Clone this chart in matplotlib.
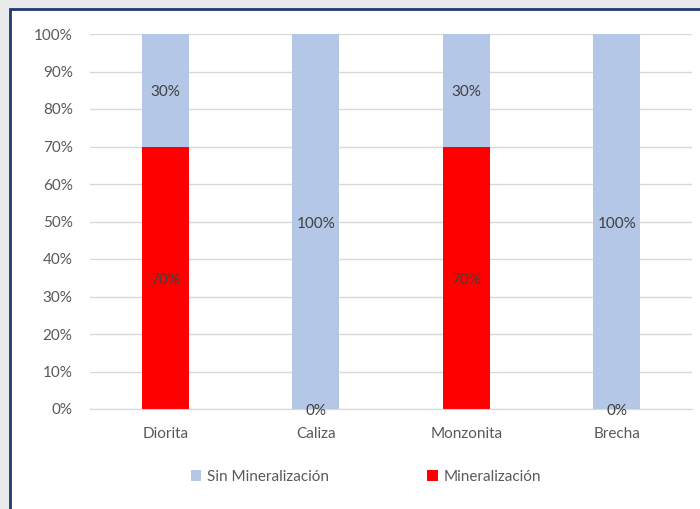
import matplotlib.pyplot as plt
from matplotlib.patches import Rectangle
from matplotlib.ticker import PercentFormatter

plt.rcParams['font.family'] = ['Lato', 'DejaVu Sans']

rocas = ['Diorita', 'Caliza', 'Monzonita', 'Brecha']
mineralizacion = [70, 0, 70, 0]
sin_mineralizacion = [30, 100, 30, 100]

azul = '#b4c7e7'
rojo = '#ff0000'
gris = '#595959'

fig = plt.figure(figsize=(7, 5.09), dpi=100)
fig.patch.set_facecolor('#e9eaec')

# white chart panel with dark blue frame (left/top edges visible)
panel = Rectangle((10 / 700, -0.01), 1, 1.01 - 9 / 509, transform=fig.transFigure,
                  facecolor='white', edgecolor='#1f3a73', linewidth=2, zorder=-1)
fig.patches.append(panel)

ax = fig.add_axes([90 / 700, 1 - 409 / 509, 602 / 700, 375 / 509])
ax.set_facecolor('none')
ax.set_zorder(1)

x = range(len(rocas))
b1 = ax.bar(x, mineralizacion, width=0.31, color=rojo, label='Mineralización', zorder=2)
b2 = ax.bar(x, sin_mineralizacion, width=0.31, bottom=mineralizacion, color=azul,
            label='Sin Mineralización', zorder=2)

for bars, vals, base in [(b1, mineralizacion, [0] * 4), (b2, sin_mineralizacion, mineralizacion)]:
    for bar, v, b in zip(bars, vals, base):
        ax.text(bar.get_x() + bar.get_width() / 2, b + v / 2 - 0.6, f'{v}%',
                ha='center', va='center', fontsize=11, color='#404040', zorder=3)

ax.set_xlim(-0.5, 3.5)
ax.set_ylim(0, 100)
ax.set_yticks(range(0, 101, 10))
ax.yaxis.set_major_formatter(PercentFormatter(decimals=0))
ax.set_xticks(list(x))
ax.set_xticklabels(rocas)
ax.tick_params(axis='both', length=0, colors=gris, labelsize=11)
ax.tick_params(axis='y', pad=12.5)
ax.tick_params(axis='x', pad=13)
ax.grid(axis='y', color='#d9d9d9', linewidth=1, zorder=0)
ax.set_axisbelow(True)
for s in ['top', 'right', 'left']:
    ax.spines[s].set_visible(False)
ax.spines['bottom'].set_color('#d9d9d9')

handles = [b2, b1]
leg = fig.legend(handles, [h.get_label() for h in handles], loc='center',
                 bbox_to_anchor=(0.523, 1 - 477 / 509), ncol=2, frameon=False,
                 fontsize=11, handlelength=0.7, handleheight=0.7, handletextpad=0.4,
                 columnspacing=6.4)
for t in leg.get_texts():
    t.set_color(gris)

fig.savefig('out.png', dpi=100, facecolor=fig.get_facecolor())
